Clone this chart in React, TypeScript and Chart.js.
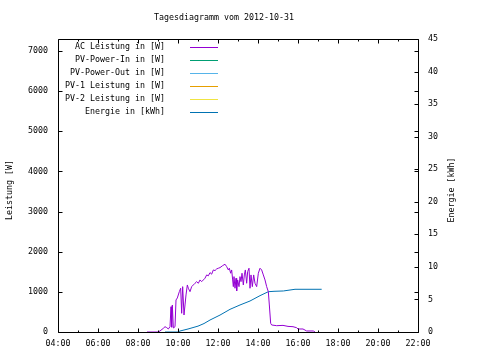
import React, { useEffect, useRef } from "react";
import { Chart, registerables } from "chart.js";
Chart.register(...registerables);

const titleText = "Tagesdiagramm vom 2012-10-31";
const leftAxisTitle = "Leistung [W]";
const rightAxisTitle = "Energie [kWh]";
const seriesLabels = [
  "AC Leistung in [W]",
  "PV-Power-In in [W]",
  "PV-Power-Out in [W]",
  "PV-1 Leistung in [W]",
  "PV-2 Leistung in [W]",
  "Energie in [kWh]",
];
const seriesColors = ["#9400d3", "#009e73", "#56b4e9", "#e69f00", "#f0e442", "#0072b2"];
const xTickLabels = ["04:00", "06:00", "08:00", "10:00", "12:00", "14:00", "16:00", "18:00", "20:00", "22:00"];
const leftTicks = [0, 1000, 2000, 3000, 4000, 5000, 6000, 7000];
const rightTicks = [0, 5, 10, 15, 20, 25, 30, 35, 40, 45];

const acTimes = [
  "08:27", "08:42", "09:00", "09:06", "09:16", "09:21", "09:26", "09:31", "09:36", "09:39",
  "09:41", "09:43", "09:46", "09:51", "09:54", "09:58", "10:04", "10:08", "10:11", "10:14",
  "10:18", "10:21", "10:24", "10:28", "10:31", "10:36", "10:41", "10:46", "10:51", "10:56",
  "11:01", "11:06", "11:11", "11:16", "11:21", "11:26", "11:31", "11:36", "11:41", "11:46",
  "11:51", "11:56", "12:01", "12:06", "12:14", "12:21", "12:26", "12:31", "12:34", "12:38",
  "12:41", "12:44", "12:46", "12:48", "12:51", "12:54", "12:56", "12:59", "13:03", "13:06",
  "13:09", "13:12", "13:16", "13:19", "13:22", "13:26", "13:29", "13:33", "13:36", "13:39",
  "13:43", "13:47", "13:51", "13:56", "14:01", "14:06", "14:11", "14:16", "14:21", "14:26",
  "14:31", "14:34", "14:38", "14:41", "14:56", "15:15", "15:30", "15:45", "15:56", "16:00",
  "16:15", "16:26", "16:46", "16:51",
];
const acValues = [
  0, 0, 0, 25, 92, 132, 110, 75, 132, 630,
  120, 673, 100, 132, 798, 848, 1005, 1090, 466, 1130,
  424, 673, 923, 1172, 1090, 1005, 1130, 1172, 1214, 1255,
  1214, 1297, 1255, 1297, 1340, 1422, 1400, 1480, 1440, 1546,
  1530, 1571, 1589, 1604, 1654, 1688, 1629, 1546, 1589, 1464,
  1546, 1297, 1130, 1380, 1090, 1339, 1022, 1297, 1130, 1380,
  1255, 1464, 1172, 1422, 1546, 1214, 1504, 1589, 1090, 1422,
  1130, 1422, 1214, 1130, 1464, 1589, 1546, 1422, 1297, 1130,
  1005, 673, 217, 175, 157, 165, 140, 132, 107, 75,
  75, 25, 25, 0,
];
const pvInTimes: string[] = [];
const pvInValues: number[] = [];
const pvOutTimes: string[] = [];
const pvOutValues: number[] = [];
const pv1Times: string[] = [];
const pv1Values: number[] = [];
const pv2Times: string[] = [];
const pv2Values: number[] = [];
const energyTimes = [
  "09:21", "10:00", "10:06", "10:30", "11:00", "11:18", "11:36", "12:06", "12:36", "13:06",
  "13:36", "14:06", "14:31", "14:48", "15:16", "15:36", "15:51", "17:11",
];
const energyValues = [
  0, 0, 0.15, 0.46, 0.9, 1.3, 1.84, 2.6, 3.48, 4.15,
  4.76, 5.58, 6.19, 6.25, 6.3, 6.45, 6.56, 6.56,
];

const FONT = "'DejaVu Sans Mono', monospace";
const FS = 8.3;

function toHours(s: string): number {
  const [h, m] = s.split(":").map(Number);
  return h + m / 60;
}
function pts(times: string[], vals: number[]) {
  return times.map((t, i) => ({ x: toHours(t), y: vals[i] }));
}

const decorPlugin = {
  id: "decor",
  afterDraw(chart: any) {
    const ctx = chart.ctx as CanvasRenderingContext2D;
    const a = chart.chartArea;
    const xs = chart.scales.x;
    const ys = chart.scales.y;
    const y2 = chart.scales.y2;
    ctx.save();
    ctx.strokeStyle = "#000";
    ctx.lineWidth = 1;
    const L = Math.round(a.left) + 0.5;
    const R = Math.round(a.right) + 0.5;
    const T = Math.round(a.top) + 0.5;
    const B = Math.round(a.bottom) + 0.5;
    ctx.beginPath();
    ctx.rect(L, T, R - L, B - T);
    // left ticks + mirror
    leftTicks.forEach((v) => {
      const y = Math.round(ys.getPixelForValue(v)) + 0.5;
      ctx.moveTo(L, y); ctx.lineTo(L + 4, y);
      ctx.moveTo(R, y); ctx.lineTo(R - 4, y);
    });
    rightTicks.forEach((v) => {
      const y = Math.round(y2.getPixelForValue(v)) + 0.5;
      ctx.moveTo(R, y); ctx.lineTo(R - 4, y);
    });
    for (let h = 4; h <= 22; h++) {
      const x = Math.round(xs.getPixelForValue(h)) + 0.5;
      const len = h % 2 === 0 ? 4 : 2;
      ctx.moveTo(x, B); ctx.lineTo(x, B - len);
      ctx.moveTo(x, T); ctx.lineTo(x, T + len);
    }
    ctx.stroke();

    ctx.fillStyle = "#000";
    ctx.font = `${FS}px ${FONT}`;
    ctx.textBaseline = "middle";
    ctx.textAlign = "center";
    ctx.fillText(titleText, 224, 18);

    // legend
    seriesLabels.forEach((lab, i) => {
      const y = 47 + i * 13;
      ctx.textAlign = "right";
      ctx.fillStyle = "#000";
      ctx.fillText(lab, 165, y);
      ctx.beginPath();
      ctx.strokeStyle = seriesColors[i];
      ctx.moveTo(190, Math.round(y) + 0.5);
      ctx.lineTo(218, Math.round(y) + 0.5);
      ctx.stroke();
    });

    // axis titles
    ctx.fillStyle = "#000";
    ctx.textAlign = "center";
    ctx.save();
    ctx.translate(10, 190);
    ctx.rotate(-Math.PI / 2);
    ctx.fillText(leftAxisTitle, 0, 0);
    ctx.restore();
    ctx.save();
    ctx.translate(452, 190);
    ctx.rotate(-Math.PI / 2);
    ctx.fillText(rightAxisTitle, 0, 0);
    ctx.restore();
    ctx.restore();
  },
};

export default function App() {
  const ref = useRef<HTMLCanvasElement | null>(null);
  useEffect(() => {
    document.body.style.margin = "0";
    const canvas = ref.current;
    if (!canvas) return;
    const line = (i: number, data: any[], axis: string) => ({
      label: seriesLabels[i],
      data,
      yAxisID: axis,
      borderColor: seriesColors[i],
      backgroundColor: seriesColors[i],
      borderWidth: 1,
      pointRadius: 0,
      fill: false,
      tension: 0,
    });
    const tickFont = { family: FONT, size: FS };
    const chart = new Chart(canvas, {
      type: "line",
      data: {
        datasets: [
          line(0, pts(acTimes, acValues), "y"),
          line(1, pts(pvInTimes, pvInValues), "y"),
          line(2, pts(pvOutTimes, pvOutValues), "y"),
          line(3, pts(pv1Times, pv1Values), "y"),
          line(4, pts(pv2Times, pv2Values), "y"),
          line(5, pts(energyTimes, energyValues), "y2"),
        ],
      },
      options: {
        animation: false,
        responsive: false,
        devicePixelRatio: 1,
        layout: { padding: { top: 39, left: 0, right: 0, bottom: 0 } },
        plugins: { legend: { display: false }, title: { display: false }, tooltip: { enabled: false } },
        scales: {
          x: {
            type: "linear",
            min: 4,
            max: 22,
            grid: { display: false, drawTicks: false },
            border: { display: false },
            afterBuildTicks: (s: any) => { s.ticks = xTickLabels.map((l) => ({ value: toHours(l) })); },
            afterFit: (s: any) => { s.height = 28; },
            ticks: {
              autoSkip: false,
              maxRotation: 0,
              padding: 7,
              color: "#000",
              font: tickFont,
              callback: (_v: any, i: number) => xTickLabels[i],
            },
          },
          y: {
            type: "linear",
            position: "left",
            min: 0,
            max: 7300,
            grid: { display: false, drawTicks: false },
            border: { display: false },
            afterBuildTicks: (s: any) => { s.ticks = leftTicks.map((v) => ({ value: v })); },
            afterFit: (s: any) => { s.width = 58; },
            ticks: { padding: 10, color: "#000", font: tickFont, callback: (v: any) => String(v) },
          },
          y2: {
            type: "linear",
            position: "right",
            min: 0,
            max: 45,
            grid: { display: false, drawTicks: false },
            border: { display: false },
            afterBuildTicks: (s: any) => { s.ticks = rightTicks.map((v) => ({ value: v })); },
            afterFit: (s: any) => { s.width = 62; },
            ticks: { padding: 10, color: "#000", font: tickFont, callback: (v: any) => String(v) },
          },
        },
      },
      plugins: [decorPlugin],
    } as any);
    return () => chart.destroy();
  }, []);
  return (
    <div style={{ position: "absolute", left: 0, top: 0, width: 480, height: 360, background: "#fff" }}>
      <canvas ref={ref} width={480} height={360} />
    </div>
  );
}
